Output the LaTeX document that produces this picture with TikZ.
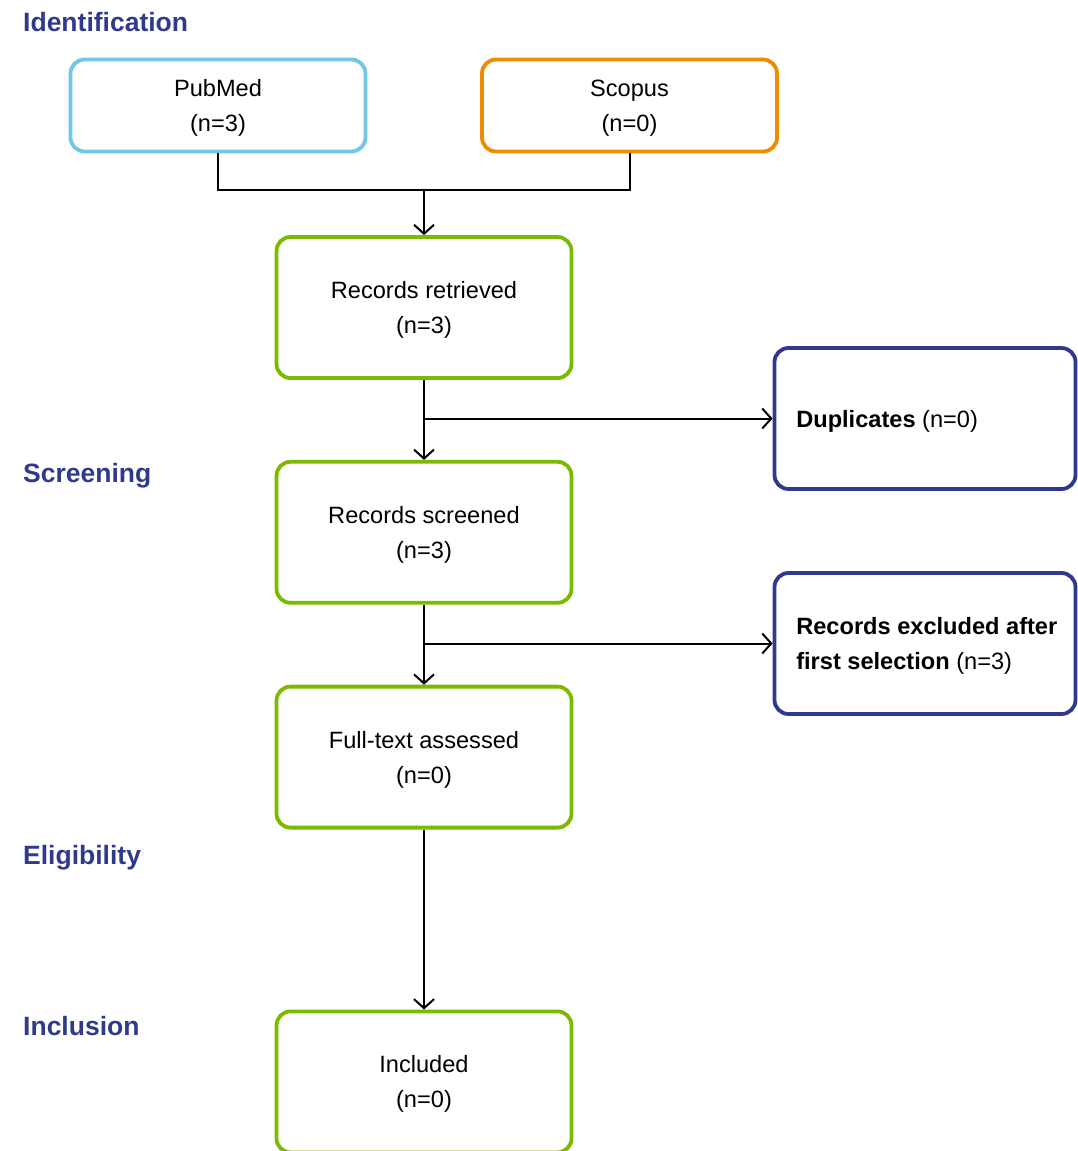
\documentclass[tikz,border=0pt]{standalone}
\usepackage{fontspec}
\setmainfont{Liberation Sans}
\usetikzlibrary{arrows.meta,positioning}
\definecolor{prblue}{HTML}{72C6E6}
\definecolor{prorange}{HTML}{F08A00}
\definecolor{prgreen}{HTML}{7DB900}
\definecolor{prnavy}{HTML}{2F3A8C}

\begin{document}
\begin{tikzpicture}[x=1pt,y=-1pt,
      box/.style={draw=prgreen,line width=3.8pt,rounded corners=14pt,minimum width=295pt,minimum height=141pt,
        align=center,inner sep=0pt,text depth=0pt,font=\fontsize{23.6}{35}\selectfont},
      srcbox/.style={box,minimum height=92pt},
      sidebox/.style={box,draw=prnavy,minimum width=301pt},
      sidetext/.style={anchor=west,align=left,inner sep=0pt,text depth=0pt,font=\fontsize{23.6}{35}\selectfont},
      stage/.style={anchor=base west,inner sep=0pt,text=prnavy,font=\fontsize{26.5}{32}\selectfont\bfseries},
      link/.style={line width=2pt},
      arr/.style={-{Straight Barb[length=9pt,width=20pt]},line width=2pt}]
    \useasboundingbox (0,0) rectangle (1078,1151);
    % stage headings
    \node[stage] (ident) at (23,31) {Identification};
    \node[stage] (screen) at (23,482) {Screening};
    \node[stage] (elig) at (23,864) {Eligibility};
    \node[stage] (incl) at (23,1035) {Inclusion};
    % sources
    \node[srcbox,draw=prblue] (pub) at (218,105.5) {PubMed\\(n=3)};
    \node[srcbox,draw=prorange] (sco) at (629.5,105.5) {Scopus\\(n=0)};
    % main flow
    \node[box] (ret) at (424,307.5) {Records retrieved\\(n=3)};
    \node[box,below=80pt of ret] (scr) {Records screened\\(n=3)};
    \node[box,below=80pt of scr] (full) {Full-text assessed\\(n=0)};
    \node[box,below=180pt of full] (inc) {Included\\(n=0)};
    % exclusions
    \node[sidebox] (dup) at (925,418.5) {};
    \node[sidetext] (duptxt) at ([xshift=23.5pt]dup.west) {\textbf{Duplicates} (n=0)};
    \node[sidebox] (exc) at (925,643.5) {};
    \node[sidetext] (exctxt) at ([xshift=23.5pt]exc.west) {\textbf{Records excluded after}\\\textbf{first selection} (n=3)};
    % connectors
    \coordinate (join) at (424,190);
    \draw[link] (pub.south) |- (join) -| (sco.south);
    \draw[arr] (join) -- (ret);
    \draw[arr] (ret) -- (scr);
    \draw[arr] (ret.south |- dup.west) -- (dup.west);
    \draw[arr] (scr) -- (full);
    \draw[arr] (scr.south |- exc.west) -- (exc.west);
    \draw[arr] (full) -- (inc);
  \end{tikzpicture}
\end{document}
